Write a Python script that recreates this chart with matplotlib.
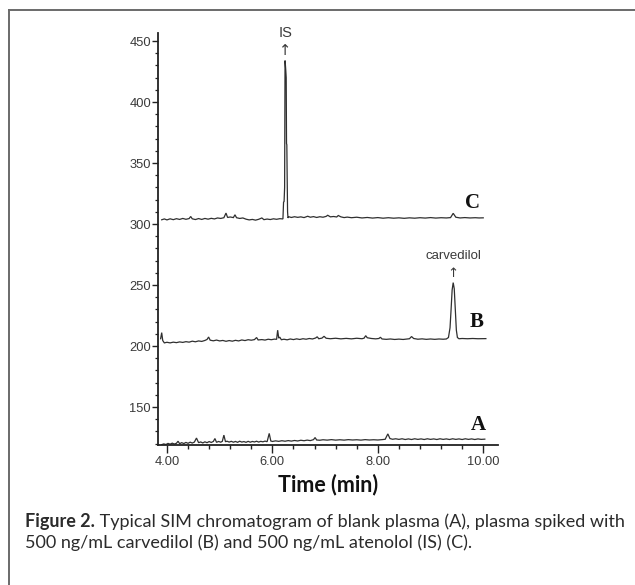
import matplotlib
matplotlib.use("Agg")
import matplotlib.pyplot as plt
from matplotlib.ticker import MultipleLocator, FixedLocator
from matplotlib.lines import Line2D

# ---------------- data ----------------
tC = [3.90, 3.95, 4.00, 4.06, 4.12, 4.18, 4.24, 4.30, 4.36, 4.42, 4.45, 4.48, 4.54, 4.60, 4.66,
      4.72, 4.78, 4.84, 4.90, 4.96, 5.02, 5.08, 5.12, 5.15, 5.20, 5.26, 5.29, 5.32, 5.38, 5.44,
      5.50, 5.56, 5.62, 5.68, 5.74, 5.80, 5.84, 5.90, 5.96, 6.02, 6.08, 6.14, 6.20, 6.212, 6.222,
      6.232, 6.240, 6.246, 6.254, 6.262, 6.268, 6.274, 6.280, 6.288, 6.296, 6.31, 6.36, 6.42, 6.48,
      6.54, 6.60, 6.67, 6.72, 6.78, 6.84, 6.90, 6.96, 7.02, 7.05, 7.10, 7.16, 7.22, 7.25, 7.30,
      7.36, 7.42, 7.50, 7.60, 7.70, 7.80, 7.90, 8.00, 8.10, 8.20, 8.30, 8.40, 8.50, 8.60, 8.70,
      8.80, 8.90, 9.00, 9.10, 9.20, 9.30, 9.38, 9.43, 9.48, 9.56, 9.65, 9.75, 9.85, 9.92, 10.00]
yC = [303.5, 304.2, 303.4, 304.3, 303.6, 304.4, 303.8, 304.6, 303.9, 304.5, 306.2, 304.3, 303.7, 304.5, 303.8,
      304.6, 304.0, 304.7, 304.2, 305.0, 304.6, 305.2, 309.0, 305.4, 305.8, 305.3, 307.6, 305.2, 304.6, 305.0,
      304.0, 303.4, 303.8, 303.2, 303.9, 305.0, 303.6, 304.1, 303.7, 304.3, 303.9, 304.4, 304.2, 318.0, 318.5,
      330.0, 434.0, 431.0, 426.0, 420.0, 366.0, 365.0, 340.0, 310.0, 305.0, 306.0, 305.4, 306.0, 305.5,
      305.9, 305.3, 306.4, 305.6, 306.1, 305.4, 306.0, 305.6, 306.3, 307.2, 305.9, 306.2, 305.8, 307.0, 305.9,
      305.3, 305.7, 305.2, 305.6, 305.0, 305.4, 304.9, 305.3, 304.8, 305.2, 304.8, 305.1, 304.7, 305.1, 304.8,
      305.2, 304.9, 305.3, 304.9, 305.2, 305.0, 305.3, 308.8, 305.6, 305.0, 305.3, 305.0, 305.2, 305.0, 305.1]

tB = [3.88, 3.90, 3.92, 3.95, 4.00, 4.06, 4.12, 4.18, 4.24, 4.30, 4.36, 4.42, 4.48, 4.54, 4.60,
      4.66, 4.72, 4.76, 4.79, 4.82, 4.88, 4.94, 5.00, 5.06, 5.12, 5.18, 5.24, 5.30, 5.36, 5.42,
      5.48, 5.54, 5.60, 5.66, 5.70, 5.73, 5.80, 5.86, 5.92, 5.98, 6.04, 6.08, 6.10, 6.12, 6.14,
      6.17, 6.22, 6.28, 6.34, 6.40, 6.46, 6.52, 6.58, 6.64, 6.70, 6.76, 6.82, 6.85, 6.88, 6.94,
      6.98, 7.02, 7.10, 7.20, 7.30, 7.40, 7.50, 7.60, 7.70, 7.74, 7.77, 7.80, 7.88, 7.96, 8.02,
      8.05, 8.08, 8.16, 8.24, 8.32, 8.40, 8.48, 8.56, 8.60, 8.64, 8.68, 8.76, 8.84, 8.92, 9.00,
      9.08, 9.16, 9.24, 9.30, 9.34, 9.37, 9.39, 9.41, 9.43, 9.45, 9.47, 9.49, 9.51, 9.54, 9.60,
      9.70, 9.80, 9.90, 10.05]
yB = [206.0, 211.0, 204.5, 202.6, 203.1, 202.6, 203.2, 202.8, 203.4, 203.0, 203.6, 203.2, 204.0, 203.5, 204.2,
      203.8, 204.6, 205.4, 207.4, 204.8, 204.3, 204.9, 204.2, 204.6, 203.9, 204.5, 204.0, 204.7, 204.2, 205.0,
      204.5, 205.2, 204.8, 205.3, 207.0, 205.0, 205.3, 204.9, 205.6, 205.2, 205.7, 205.5, 213.0, 206.5, 207.3,
      205.2, 205.6, 205.1, 205.8, 205.3, 205.9, 205.4, 206.0, 205.6, 206.2, 205.8, 206.6, 207.6, 206.0, 206.5,
      208.0, 206.4, 206.0, 206.4, 205.9, 206.3, 205.9, 206.4, 206.0, 206.5, 208.5, 206.8, 206.2, 205.9, 206.2,
      207.2, 205.8, 205.5, 205.8, 205.4, 205.7, 205.4, 205.8, 206.0, 207.8, 206.2, 205.6, 205.9, 205.5, 205.8,
      205.5, 205.8, 205.6, 205.8, 207.0, 215.0, 230.0, 246.0, 252.0, 247.0, 230.0, 213.0, 207.0, 206.0, 206.2,
      206.0, 206.2, 206.0, 206.1]

tA = [3.90, 3.94, 3.98, 4.02, 4.06, 4.10, 4.14, 4.18, 4.21, 4.24, 4.28, 4.32, 4.36, 4.40, 4.44,
      4.48, 4.52, 4.56, 4.60, 4.64, 4.68, 4.72, 4.76, 4.80, 4.84, 4.88, 4.91, 4.94, 4.98, 5.02,
      5.05, 5.08, 5.11, 5.14, 5.18, 5.22, 5.26, 5.30, 5.34, 5.38, 5.42, 5.46, 5.50, 5.54, 5.58,
      5.62, 5.66, 5.70, 5.74, 5.78, 5.82, 5.86, 5.90, 5.94, 5.97, 6.00, 6.06, 6.12, 6.18, 6.24,
      6.30, 6.36, 6.42, 6.48, 6.54, 6.60, 6.66, 6.72, 6.78, 6.81, 6.84, 6.90, 6.96, 7.04, 7.12,
      7.20, 7.28, 7.36, 7.44, 7.52, 7.60, 7.68, 7.76, 7.84, 7.92, 8.00, 8.08, 8.14, 8.19, 8.23,
      8.28, 8.34, 8.40, 8.46, 8.52, 8.58, 8.64, 8.70, 8.76, 8.82, 8.88, 8.94, 9.00, 9.06, 9.12,
      9.18, 9.24, 9.30, 9.36, 9.42, 9.48, 9.54, 9.60, 9.66, 9.72, 9.78, 9.84, 9.90, 9.96, 10.03]
yA = [119.2, 119.8, 119.3, 120.2, 119.6, 120.4, 119.7, 120.3, 122.0, 120.0, 120.8, 120.1, 121.0, 120.3, 121.2,
      120.5, 121.3, 124.6, 120.8, 121.4, 120.6, 121.5, 120.8, 121.7, 121.0, 121.8, 124.2, 121.1, 121.8, 121.2,
      121.9, 127.0, 121.6, 122.0, 121.3, 121.9, 121.2, 121.8, 121.1, 122.0, 121.3, 121.7, 121.1, 121.9, 121.2,
      121.8, 121.4, 122.0, 121.3, 121.9, 121.5, 122.1, 121.6, 128.4, 122.2, 121.8, 122.3, 121.9, 122.4, 122.0,
      122.5, 122.1, 122.6, 122.2, 122.8, 122.4, 122.9, 122.5, 123.3, 125.0, 123.0, 122.8, 123.2, 122.9, 123.3,
      122.9, 123.2, 122.9, 123.3, 123.0, 123.2, 122.9, 123.3, 123.0, 123.2, 123.0, 123.3, 123.6, 128.0, 124.2,
      123.6, 124.0, 123.5, 124.0, 123.4, 123.9, 123.4, 124.0, 123.5, 123.9, 123.4, 124.0, 123.5, 123.9, 123.4,
      124.0, 123.5, 123.9, 123.4, 124.0, 123.5, 123.9, 123.4, 124.0, 123.5, 123.9, 123.4, 123.9, 123.5, 123.7]

xticks = [4.0, 6.0, 8.0, 10.0]
xtick_labels = ["4.00", "6.00", "8.00", "10.00"]
yticks = [150, 200, 250, 300, 350, 400, 450]
trace_labels = ["A", "B", "C"]
peak_labels = ["IS", "carvedilol"]
peak_times = [6.245, 9.43]
peak_heights = [434.0, 252.0]
xlabel = "Time (min)"
cap_bold = "Figure 2."
cap_line1 = " Typical SIM chromatogram of blank plasma (A), plasma spiked with"
cap_line2 = "500 ng/mL carvedilol (B) and 500 ng/mL atenolol (IS) (C)."

# ---------------- figure ----------------
W, H = 635, 585
fig = plt.figure(figsize=(W / 100, H / 100), dpi=100)
fig.patch.set_facecolor("white")

def px(x, y):
    return x / W, 1 - y / H

# outer frame (top and left lines)
fig.add_artist(Line2D([9 / W, 1.0], [1 - 10 / H, 1 - 10 / H], color="#6a6a6a", lw=1.4,
                      transform=fig.transFigure))
fig.add_artist(Line2D([9 / W, 9 / W], [0.0, 1 - 10 / H], color="#6a6a6a", lw=1.4,
                      transform=fig.transFigure))

left, right, top, bottom = 158, 498, 33, 445
ax = fig.add_axes([left / W, 1 - bottom / H, (right - left) / W, (bottom - top) / H])
ax.set_facecolor("none")
ax.set_xlim(3.83, 10.28)
ax.set_ylim(118.9, 456.6)

line_col = "#2f2f2f"
for t, y in ((tA, yA), (tB, yB), (tC, yC)):
    ax.plot(t, y, color=line_col, lw=0.9, solid_joinstyle="miter")

for s in ("top", "right"):
    ax.spines[s].set_visible(False)
for s in ("left", "bottom"):
    ax.spines[s].set_linewidth(1.3)
    ax.spines[s].set_color("#222222")

tick_font = dict(family="Liberation Sans", size=9.3, color="#3a3a3a")
ax.xaxis.set_major_locator(FixedLocator(xticks))
ax.set_xticklabels(xtick_labels, fontdict=tick_font)
ax.xaxis.set_minor_locator(MultipleLocator(0.4))
ax.yaxis.set_major_locator(FixedLocator(yticks))
ax.set_yticklabels([str(v) for v in yticks], fontdict=tick_font)
ax.yaxis.set_minor_locator(MultipleLocator(10))
ax.tick_params(axis="x", which="major", direction="out", length=6, width=1.0, color="#222222", pad=2)
ax.tick_params(axis="x", which="minor", direction="out", length=3, width=1.0, color="#222222")
ax.tick_params(axis="y", which="major", direction="out", length=4, width=1.0, color="#222222", pad=1)
ax.tick_params(axis="y", which="minor", direction="out", length=2, width=0.9, color="#222222")

ax.set_xlabel(xlabel, fontfamily="Lato", fontweight="bold", fontsize=15.5, color="#111111", labelpad=4)

# trace letters
letter_font = dict(family="Liberation Serif", weight="bold", size=15, color="#111111")
for lab, (xp, yp) in zip(trace_labels, [(478, 425), (477, 322), (473, 203)]):
    fig.text(*px(xp, yp), lab, ha="center", va="center", **letter_font)

# peak labels with arrows
peak_font = dict(family="Liberation Sans", color="#3a3a3a")
ax.annotate(peak_labels[0], xy=(peak_times[0], peak_heights[0]), xytext=(0, 15),
            textcoords="offset points", ha="center", va="bottom", fontsize=10.5, **peak_font)
ax.annotate("↑", xy=(peak_times[0], peak_heights[0]), xytext=(0, 2),
            textcoords="offset points", ha="center", va="bottom", fontsize=10.5,
            family="DejaVu Sans", color="#3a3a3a")
ax.annotate(peak_labels[1], xy=(peak_times[1], peak_heights[1]), xytext=(0, 15),
            textcoords="offset points", ha="center", va="bottom", fontsize=9.5, **peak_font)
ax.annotate("↑", xy=(peak_times[1], peak_heights[1]), xytext=(0, 2),
            textcoords="offset points", ha="center", va="bottom", fontsize=9.5,
            family="DejaVu Sans", color="#3a3a3a")

# caption: size chosen so that the first line ends near the right edge
cap_col = "#2b2b2b"
renderer = fig.canvas.get_renderer()
cap_size = 11.0
y1, y2 = 522, 543
tb = fig.text(*px(25, y1), cap_bold, ha="left", va="center", family="Lato",
              weight="bold", size=cap_size, color=cap_col)
t1 = fig.text(0, 1 - y1 / H, cap_line1, ha="left", va="center", family="Lato",
              size=cap_size, color=cap_col)
w_total = tb.get_window_extent(renderer).width + t1.get_window_extent(renderer).width
cap_size = cap_size * 598.0 / w_total
tb.set_fontsize(cap_size)
t1.set_fontsize(cap_size)
bb = tb.get_window_extent(renderer)
t1.set_x(bb.x1 / W)
fig.text(*px(25, y2), cap_line2, ha="left", va="center", family="Lato",
         size=cap_size, color=cap_col)

fig.savefig("out.png", dpi=100, facecolor="white")
